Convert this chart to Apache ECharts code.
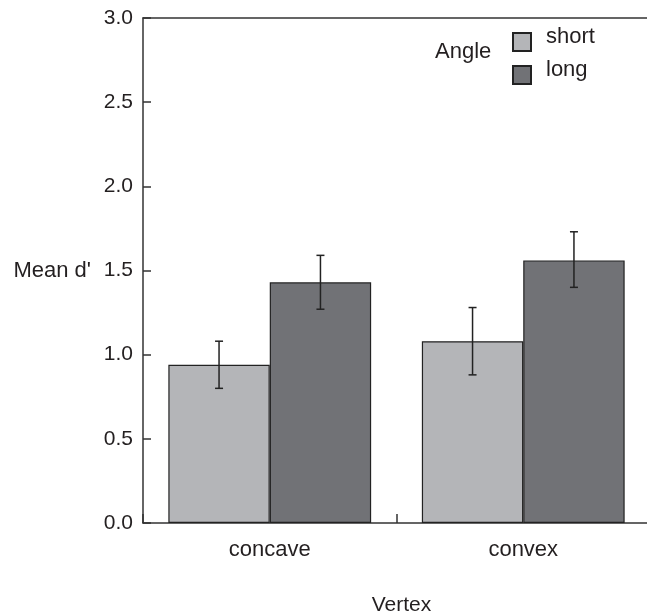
<!DOCTYPE html>
<html>
<head>
<meta charset="utf-8">
<script src="https://cdn.jsdelivr.net/npm/echarts@6/dist/echarts.min.js"></script>
<style>
  html, body { margin: 0; padding: 0; background: #fff; }
  #chart { width: 647px; height: 612px; }
</style>
</head>
<body>
<div id="chart"></div>
<script>
var categories = ['concave', 'convex'];
var shortMean = [0.94, 1.08];
var shortLow = [0.80, 0.88];
var shortHigh = [1.08, 1.28];
var longMean = [1.43, 1.56];
var longLow = [1.27, 1.40];
var longHigh = [1.59, 1.73];

var font = 'Liberation Sans, Arial, sans-serif';
var myChart = echarts.init(document.getElementById('chart'));

// error bar data: [category index, low, high, side]  side -1 = short, 1 = long
var errData = [];
for (var i = 0; i < categories.length; i++) {
  errData.push([i, shortLow[i], shortHigh[i], -1]);
  errData.push([i, longLow[i], longHigh[i], 1]);
}

function renderErr(params, api) {
  var idx = api.value(0);
  var lo = api.coord([idx, api.value(1)]);
  var hi = api.coord([idx, api.value(2)]);
  var catW = api.size([1, 0])[0];
  var barW = catW * 0.8 / 2;
  var x = lo[0] + api.value(3) * barW / 2;
  var cap = 4;
  var st = { stroke: '#222', lineWidth: 1.5 };
  return {
    type: 'group',
    children: [
      { type: 'line', shape: { x1: x, y1: lo[1], x2: x, y2: hi[1] }, style: st },
      { type: 'line', shape: { x1: x - cap, y1: lo[1], x2: x + cap, y2: lo[1] }, style: st },
      { type: 'line', shape: { x1: x - cap, y1: hi[1], x2: x + cap, y2: hi[1] }, style: st }
    ]
  };
}

myChart.setOption({
  animation: false,
  grid: { left: 143, right: -3, top: 18, bottom: 89, containLabel: false, outerBoundsMode: 'none' },
  color: ['#b4b5b8', '#717276'],
  legend: {
    data: ['short', 'long'],
    orient: 'vertical',
    left: 507,
    top: 21,
    itemWidth: 18,
    itemHeight: 18,
    itemGap: 1,
    icon: 'rect',
    formatter: '{t|{name}}',
    textStyle: {
      rich: {
        t: { fontFamily: font, fontSize: 22, lineHeight: 22, color: '#231f20', padding: [0, 0, 10, 10] }
      }
    }
  },
  graphic: [
    { type: 'text', left: 435, top: 41, style: { text: 'Angle', font: '22px ' + font, fill: '#231f20' } }
  ],
  xAxis: [
    {
      type: 'category',
      data: categories,
      name: 'Vertex',
      nameLocation: 'middle',
      nameGap: 72,
      nameTextStyle: { fontFamily: font, fontSize: 21, color: '#231f20', padding: [0, 0, 0, 10] },
      axisLine: { lineStyle: { color: '#333', width: 1.5 } },
      axisTick: { show: true, interval: 0, inside: true, length: 9, lineStyle: { color: '#333', width: 1.5 } },
      axisLabel: { fontFamily: font, fontSize: 22, color: '#231f20', margin: 16 }
    },
    {
      type: 'category',
      data: categories,
      position: 'top',
      axisLine: { lineStyle: { color: '#333', width: 1.5 } },
      axisTick: { show: false },
      axisLabel: { show: false }
    }
  ],
  yAxis: {
    type: 'value',
    min: 0,
    max: 3,
    interval: 0.5,
    name: "Mean d'",
    nameLocation: 'middle',
    nameRotate: 0,
    nameGap: 52,
    nameTextStyle: { fontFamily: font, fontSize: 22, color: '#231f20' },
    splitLine: { show: false },
    axisLine: { show: true, lineStyle: { color: '#333', width: 1.5 } },
    axisTick: { show: true, inside: true, length: 8, lineStyle: { color: '#333', width: 1.5 } },
    axisLabel: {
      fontFamily: font, fontSize: 21, color: '#231f20', margin: 10, padding: [5, 0, 0, 0],
      formatter: function (v) { return v.toFixed(1); }
    }
  },
  series: [
    {
      name: 'short',
      type: 'bar',
      data: shortMean,
      barGap: '0%',
      barCategoryGap: '20%',
      itemStyle: { borderColor: '#222', borderWidth: 1.2 }
    },
    {
      name: 'long',
      type: 'bar',
      data: longMean,
      barGap: '0%',
      barCategoryGap: '20%',
      itemStyle: { borderColor: '#222', borderWidth: 1.2 }
    },
    {
      type: 'custom',
      renderItem: renderErr,
      data: errData,
      z: 10,
      silent: true
    }
  ]
});
</script>
</body>
</html>
